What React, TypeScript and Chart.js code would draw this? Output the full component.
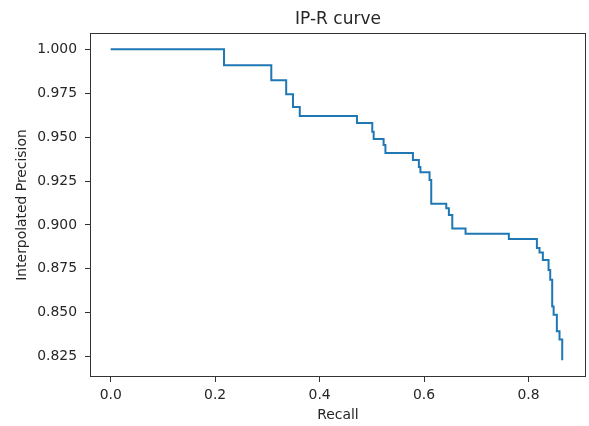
import React, { useEffect, useRef } from "react";
import { Chart, registerables } from "chart.js";

Chart.register(...registerables);

const recall = [
  0, 0.217, 0.3075, 0.336, 0.349, 0.362, 0.4715, 0.5008, 0.5035, 0.5225, 0.526,
  0.5786, 0.59, 0.593, 0.6105, 0.6137, 0.6425, 0.6475, 0.654, 0.6794, 0.7623,
  0.816, 0.821, 0.8274, 0.8383, 0.8415, 0.8453, 0.848, 0.8542, 0.8593, 0.8645,
];
const precision = [
  1.0, 0.991, 0.9824, 0.9744, 0.9672, 0.962, 0.958, 0.953, 0.949, 0.9455, 0.941,
  0.937, 0.933, 0.93, 0.9256, 0.912, 0.9095, 0.9057, 0.898, 0.895, 0.892,
  0.8868, 0.8843, 0.88, 0.8744, 0.8688, 0.8536, 0.8489, 0.8394, 0.8347, 0.8229,
];
const xTicks = [0, 0.2, 0.4, 0.6, 0.8];
const yTicks = [0.825, 0.85, 0.875, 0.9, 0.925, 0.95, 0.975, 1.0];
const xLimits = [-0.0396, 0.91];
const yLimits = [0.8134, 1.0093];

const TITLE = "IP-R curve";
const X_LABEL = "Recall";
const Y_LABEL = "Interpolated Precision";

const FONT = "'DejaVu Sans', sans-serif";
const TEXT = "#262626";
const AXIS = "#333333";

const framePlugin = {
  id: "frame",
  afterDraw(chart: any) {
    const { ctx, chartArea } = chart;
    ctx.save();
    ctx.strokeStyle = AXIS;
    ctx.lineWidth = 1;
    ctx.strokeRect(
      Math.round(chartArea.left) + 0.5,
      Math.round(chartArea.top) + 0.5,
      Math.round(chartArea.right - chartArea.left) - 1,
      Math.round(chartArea.bottom - chartArea.top) - 1
    );
    ctx.restore();
  },
};

export default function App() {
  const ref = useRef<HTMLCanvasElement>(null);
  useEffect(() => {
    if (!ref.current) return;
    const data = recall.map((x, i) => ({ x, y: precision[i] }));
    const chart = new Chart(ref.current, {
      type: "line",
      data: {
        datasets: [
          {
            data,
            borderColor: "#1f77b4",
            borderWidth: 2,
            pointRadius: 0,
            stepped: true,
            fill: false,
          },
        ],
      },
      plugins: [framePlugin],
      options: {
        animation: false,
        responsive: false,
        devicePixelRatio: 1,
        layout: { padding: { left: 0, top: 0, right: 3, bottom: 0 } },
        plugins: {
          legend: { display: false },
          tooltip: { enabled: false },
          title: {
            display: true,
            text: TITLE,
            fullSize: false,
            color: TEXT,
            font: { family: FONT, size: 17, weight: "normal" },
            padding: { top: 9, bottom: 3.6 },
          },
        },
        scales: {
          x: {
            type: "linear",
            min: xLimits[0],
            max: xLimits[1],
            afterBuildTicks: (scale: any) => {
              scale.ticks = xTicks.map((v) => ({ value: v }));
            },
            afterFit: (scale: any) => {
              scale.height = 49;
            },
            grid: {
              drawOnChartArea: false,
              drawTicks: true,
              tickLength: 5,
              color: AXIS,
            },
            border: { display: false },
            ticks: {
              color: TEXT,
              font: { family: FONT, size: 13.9 },
              padding: 5,
              maxRotation: 0,
              callback: (v: any) => Number(v).toFixed(1),
            },
            title: {
              display: true,
              text: X_LABEL,
              color: TEXT,
              font: { family: FONT, size: 13.9 },
              padding: { top: 0, bottom: 2 },
            },
          },
          y: {
            type: "linear",
            min: yLimits[0],
            max: yLimits[1],
            afterBuildTicks: (scale: any) => {
              scale.ticks = yTicks.map((v) => ({ value: v }));
            },
            afterFit: (scale: any) => {
              scale.width = 90;
            },
            grid: {
              drawOnChartArea: false,
              drawTicks: true,
              tickLength: 5,
              color: AXIS,
            },
            border: { display: false },
            ticks: {
              color: TEXT,
              font: { family: FONT, size: 13.9 },
              padding: 8,
              callback: (v: any) => Number(v).toFixed(3),
            },
            title: {
              display: true,
              text: Y_LABEL,
              color: TEXT,
              font: { family: FONT, size: 13.9 },
              padding: { top: 13.7, bottom: 0 },
            },
          },
        },
      },
    });
    return () => chart.destroy();
  }, []);
  return (
    <div style={{ position: "fixed", left: 0, top: 0, width: 589, height: 426, background: "#fff" }}>
      <canvas ref={ref} width={589} height={426} style={{ display: "block" }} />
    </div>
  );
}
